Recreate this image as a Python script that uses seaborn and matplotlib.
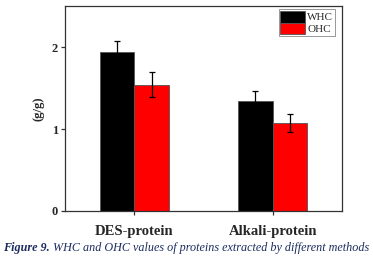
import pandas as pd
import seaborn as sns
import matplotlib.pyplot as plt

# values
methods = ['DES-protein', 'Alkali-protein']
whc = [1.94, 1.34]
ohc = [1.54, 1.07]
whc_err = [0.14, 0.13]
ohc_err = [0.15, 0.11]

df = pd.DataFrame({
    'method': methods * 2,
    'kind': ['WHC'] * 2 + ['OHC'] * 2,
    'value': whc + ohc,
    'err': whc_err + ohc_err,
})

sns.set_style('ticks')
plt.rcParams['font.family'] = ['Liberation Serif', 'DejaVu Serif']

fig = plt.figure(figsize=(3.73, 2.66), dpi=100)
ax = fig.add_axes([0.174, 0.207, 0.743, 0.770])

sns.barplot(data=df, x='method', y='value', hue='kind', order=methods,
            hue_order=['WHC', 'OHC'], palette=['black', '#ff0000'],
            width=0.5, errorbar=None, saturation=1, ax=ax,
            edgecolor='#555555', linewidth=0.6)

# error bars on top of the bars
for bars, (kind, sub) in zip(ax.containers, df.groupby('kind', sort=False)):
    xs = [b.get_x() + b.get_width() / 2 for b in bars]
    ax.errorbar(xs, sub['value'], yerr=sub['err'], fmt='none',
                ecolor='black', elinewidth=0.9, capsize=2.5, capthick=0.9)

ax.set_xlim(-0.5, 1.5)
ax.set_ylim(0, 2.5)
ax.set_yticks([0, 1, 2])
ax.set_yticklabels(['0', '1', '2'], fontweight='bold', fontsize=9)
ax.set_xticks([0, 1])
ax.set_xticklabels(methods, fontweight='bold', fontsize=10.5)
ax.tick_params(axis='both', length=3, width=0.9, color='#333333', pad=2)
ax.tick_params(axis='x', pad=7)
ax.set_xlabel('')
ax.set_ylabel('(g/g)', fontweight='bold', fontsize=9, labelpad=5)
for s in ax.spines.values():
    s.set_color('#333333')
    s.set_linewidth(0.9)

leg = ax.legend(loc='upper right', bbox_to_anchor=(0.975, 0.985),
                fontsize=8, handlelength=2.2, handleheight=1.25,
                handletextpad=0.25, borderpad=0.15, labelspacing=0.0,
                fancybox=False, framealpha=1, borderaxespad=0)
leg.get_frame().set_edgecolor('#888888')
leg.get_frame().set_linewidth(0.6)

cap_color = '#1c2b5e'
t1 = fig.text(0.008, 0.058, 'Figure 9.', fontsize=8.7, style='italic',
              fontweight='bold', color=cap_color)
fig.canvas.draw()
bb = t1.get_window_extent().transformed(fig.transFigure.inverted())
fig.text(bb.x1 + 0.008, 0.058,
         'WHC and OHC values of proteins extracted by different methods',
         fontsize=8.7, style='italic', color=cap_color)

fig.savefig('out.png', dpi=100)
